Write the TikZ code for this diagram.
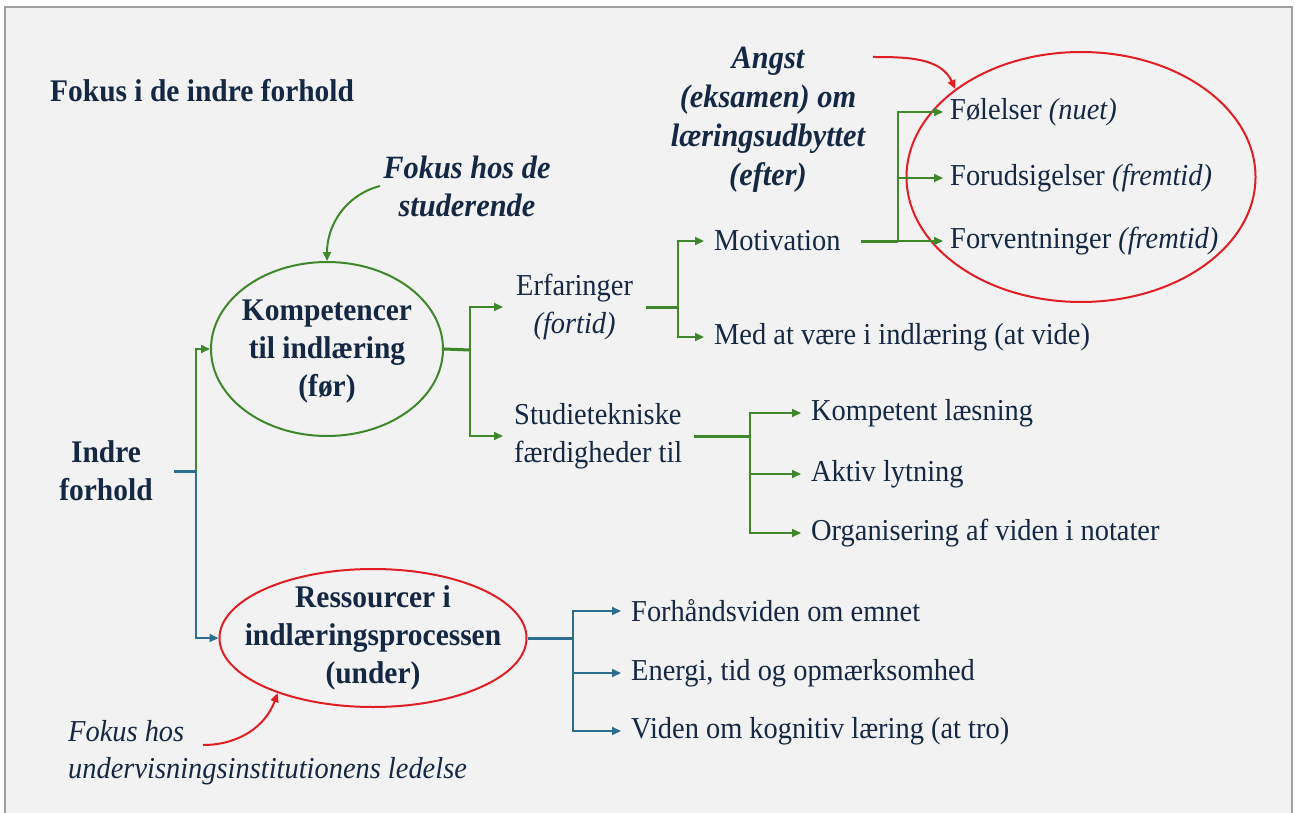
\documentclass[tikz,border=0pt]{standalone}
\usepackage{fontspec}
\setmainfont{Liberation Serif}[FakeStretch=0.935]
\usetikzlibrary{arrows.meta,shapes.geometric}
\definecolor{txtC}{RGB}{20,40,68}
\definecolor{grnC}{RGB}{62,135,42}
\definecolor{bluC}{RGB}{46,110,140}
\definecolor{redC}{RGB}{225,30,35}
\definecolor{bgC}{RGB}{242,242,242}
\definecolor{brdC}{RGB}{160,160,160}
\tikzset{
  tip/.style={-{Triangle[length=9pt,width=8pt]}},
  conn/.style={line width=2pt},
  stem/.style={line width=3pt},
  itm/.style={anchor=west, inner xsep=10pt, inner ysep=2pt, text=txtC, font=\fontsize{30.4}{38}\selectfont},
  hdr/.style={text=txtC, align=center, font=\fontsize{31.5}{38}\selectfont\bfseries},
  ell/.style={ellipse, line width=2pt, inner sep=0pt},
}
\begin{document}
\begin{tikzpicture}[x=1pt,y=-1pt]
\useasboundingbox (0,0) rectangle (1295,813);
\fill[white] (0,0) rectangle (1295,813);
\draw[brdC, fill=bgC, line width=2pt] (5,7) rectangle (1292,830);

% title
\node[anchor=west, inner sep=0pt, text=txtC, font=\fontsize{31.5}{38}\selectfont\bfseries] (title) at (50,91) {Fokus i de indre forhold};

% Angst
\node[text=txtC, align=center, font=\fontsize{32.5}{39}\selectfont\bfseries\itshape] (angst) at (768,120) {Angst\\(eksamen) om\\læringsudbyttet\\(efter)};
\coordinate (a0) at (873,57);

% Fokus hos de studerende
\node[text=txtC, align=center, font=\fontsize{32.5}{38}\selectfont\bfseries\itshape] (fstud) at (467,186) {Fokus hos de\\studerende};

% Kompetencer ellipse
\node[ell, draw=grnC, minimum width=232pt, minimum height=174pt] (komp) at (327,349) {};
\node[hdr] (kompt) at (327,352) {Kompetencer\\til indlæring\\(før)};

% Indre forhold
\node[hdr] (indre) at (106,471) {Indre\\forhold};
\coordinate (i0) at (174,471);
\coordinate (j0) at (196,471);

% Ressourcer ellipse
\node[ell, draw=redC, minimum width=307pt, minimum height=138pt] (res) at (373,638) {};
\node[hdr] (rest) at (373,638) {Ressourcer i\\indlæringsprocessen\\(under)};

% bottom italic note
\node[anchor=west, inner sep=0pt, text=txtC, align=left, font=\fontsize{30.4}{37}\selectfont\itshape] (fled) at (68,753) {Fokus hos\\undervisningsinstitutionens ledelse};
\coordinate (b0) at (203,745);

% right ellipse (top)
\node[ell, draw=redC, minimum width=349pt, minimum height=250pt] (emo) at (1081,177) {};

% items level 1
\node[itm, align=center, inner xsep=13pt] (erf) at (503,307) {Erfaringer\\\textit{(fortid)}};
\node[itm, align=left, inner xsep=11pt] (stu) at (503,436) {Studietekniske\\færdigheder til};

% items level 2
\node[itm] (mot) at (704,241) {Motivation};
\node[itm] (med) at (704,337) {Med at være i indlæring (at vide)};
\node[itm, inner xsep=7pt] (fol) at (943,112) {Følelser \textit{(nuet)}};
\node[itm, inner xsep=7pt] (foru) at (943,178) {Forudsigelser \textit{(fremtid)}};
\node[itm, inner xsep=7pt] (forv) at (943,241) {Forventninger \textit{(fremtid)}};
\node[itm] (kom) at (801,413) {Kompetent læsning};
\node[itm] (akt) at (801,474) {Aktiv lytning};
\node[itm] (org) at (801,533) {Organisering af viden i notater};
\node[itm] (forh) at (621,611) {Forhåndsviden om emnet};
\node[itm] (ene) at (621,673) {Energi, tid og opmærksomhed};
\node[itm] (vid) at (621,731) {Viden om kognitiv læring (at tro)};

% junctions
\coordinate (jk) at (470,350);
\coordinate (je) at (678,307);
\coordinate (jm) at (898,241);
\coordinate (js) at (750,436);
\coordinate (jr) at (573,638);

% connectors: root
\draw[bluC, stem] (i0) -- (j0);
\draw[grnC, conn, tip] (j0) |- (komp.west);
\draw[bluC, conn, tip] (j0) |- (res.west);

% competence branch
\draw[grnC, stem] (komp.east) -- (jk);
\draw[grnC, conn, tip] (jk) |- (erf.west);
\draw[grnC, conn, tip] (jk) |- (stu.west);
\draw[grnC, stem] (erf.east) -- (je);
\draw[grnC, conn, tip] (je) |- (mot.west);
\draw[grnC, conn, tip] (je) |- (med.west);
\draw[grnC, stem, shorten <=10pt] (mot.east) -- (jm);
\draw[grnC, conn, tip] (jm) |- (fol.west);
\draw[grnC, conn, tip] (jm) |- (foru.west);
\draw[grnC, conn, tip] (jm) -- (forv.west);
\draw[grnC, stem] (stu.east) -- (js);
\draw[grnC, conn, tip] (js) |- (kom.west);
\draw[grnC, conn, tip] (js) |- (akt.west);
\draw[grnC, conn, tip] (js) |- (org.west);

% resource branch
\draw[bluC, stem] (res.east) -- (jr);
\draw[bluC, conn, tip] (jr) |- (forh.west);
\draw[bluC, conn, tip] (jr) |- (ene.west);
\draw[bluC, conn, tip] (jr) |- (vid.west);

% curved focus arrows
\draw[grnC, conn, tip] (fstud.west) to[out=195, in=90] (komp.north);
\draw[redC, conn, tip] (a0) to[out=0, in=115] (emo.145);
\draw[redC, conn, tip] (b0) to[out=0, in=250] (res.210);
\end{tikzpicture}
\end{document}
